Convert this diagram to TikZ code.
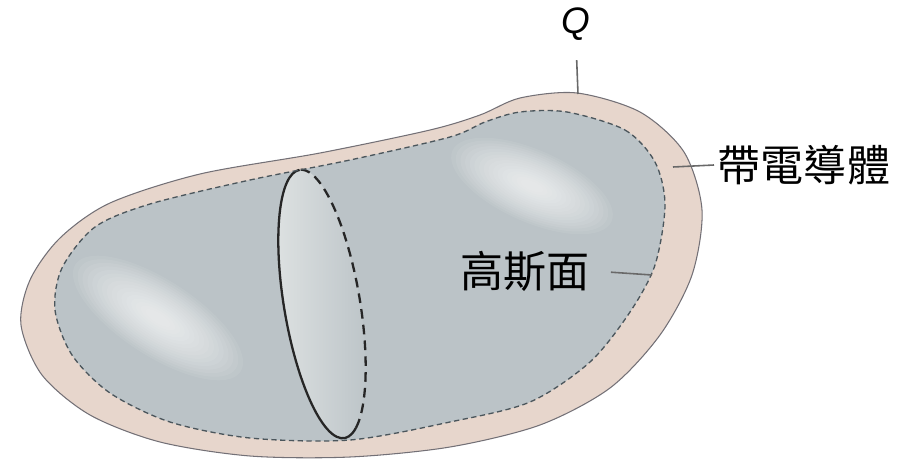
\documentclass[tikz,border=0pt]{standalone}
\usepackage{fontspec}
\setmainfont{Liberation Sans}
\newfontfamily\cjk{Noto Sans CJK TC}
\definecolor{shell}{RGB}{231,214,204}
\definecolor{body}{RGB}{187,195,199}
\definecolor{rim}{RGB}{115,112,118}
\definecolor{gaussline}{RGB}{75,86,92}
\definecolor{disk}{RGB}{222,226,226}
\definecolor{leadgray}{RGB}{105,105,105}
\tikzset{
  leader/.style={draw=leadgray, line width=0.9pt},
  cjklbl/.style={font=\cjk\fontsize{24.5}{26}\selectfont, inner sep=2pt},
  qlbl/.style={font=\fontsize{21}{23}\selectfont\itshape, inner sep=1pt},
  section/.style={line width=1.3pt, draw=black!85},
  glow/.style={fill=white, fill opacity=0.07}
}
\begin{document}
\begin{tikzpicture}[x=0.02cm, y=0.02cm]
  \useasboundingbox (0,0) rectangle (906,-463);
  \path[save path=\outerpath] plot[smooth cycle] coordinates {
    (577,-93) (640,-112) (684,-152) (702,-210) (692,-275) (660,-335) (610,-388)
    (540,-425) (450,-447) (350,-457) (250,-456) (160,-442) (90,-415) (42,-375)
    (21,-325) (30,-280) (60,-238) (110,-203) (200,-174) (320,-153) (430,-130)
    (480,-115) (520,-98)};
  \path[save path=\innerpath] plot[smooth cycle] coordinates {
    (567,-112) (625,-130) (655,-162) (665,-205) (655,-265) (630,-312) (590,-362)
    (530,-402) (450,-422) (350,-440) (250,-438) (170,-422) (110,-393) (72,-355)
    (55,-310) (62,-268) (95,-227) (150,-204) (250,-180) (350,-160) (450,-137)
    (485,-122) (520,-112)};
  \path[use path=\outerpath, fill=shell, draw=rim, line width=0.6pt];
  \path[use path=\innerpath, fill=body];
  \foreach \k in {1,...,16} {
    \fill[glow, rotate around={-33:(158,-318)}]
      (158,-318) ellipse[x radius={104-5.6*\k}, y radius={40-2.2*\k}];
    \fill[glow, rotate around={-24:(532,-186)}]
      (532,-186) ellipse[x radius={92-5*\k}, y radius={38-2.1*\k}];
  }
  \begin{scope}[shift={(322,-304)}, rotate=9.5]
    \shade[left color=disk, right color=body] (0,0) ellipse[x radius=38, y radius=136];
    \draw[section] (90:38 and 136) arc[start angle=90, end angle=290, x radius=38, y radius=136];
    \draw[section, dash pattern=on 5.5pt off 3.5pt] (290:38 and 136) arc[start angle=290, end angle=450, x radius=38, y radius=136];
  \end{scope}
  \path[use path=\innerpath, draw=gaussline, line width=0.75pt, dash pattern=on 3pt off 2pt];
  \node[qlbl] (q) at (576,-24) {Q};
  \node[cjklbl, anchor=west] (conductor) at (714,-165) {帶電導體};
  \node[cjklbl] (gauss) at (525,-271) {高斯面};
  \coordinate (qfoot) at (578,-94);
  \coordinate (rimpt) at (673,-167);
  \coordinate (gausspt) at (652,-275);
  \draw[leader, shorten <=10pt] (q.south) -- (qfoot);
  \draw[leader] (conductor.west) -- (rimpt);
  \draw[leader, shorten <=10pt] (gauss.east) -- (gausspt);
\end{tikzpicture}
\end{document}
